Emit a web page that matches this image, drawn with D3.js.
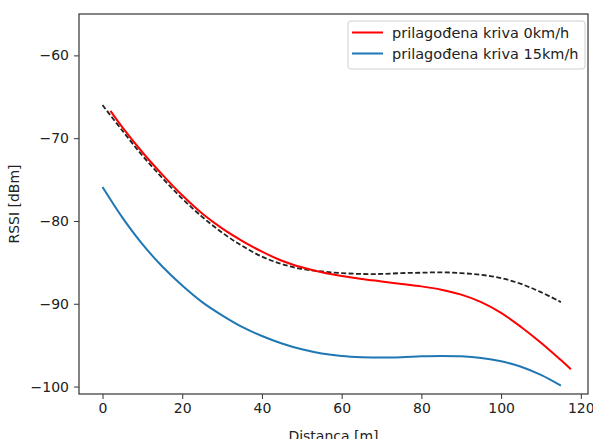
<!DOCTYPE html>
<html>
<head>
<meta charset="utf-8">
<script src="https://cdn.jsdelivr.net/npm/d3@7"></script>
<style>
  html, body { margin: 0; padding: 0; background: #fff; }
  svg { display: block; }
  text { font-family: "DejaVu Sans", sans-serif; fill: #222; }
</style>
</head>
<body>
<svg id="chart" width="593" height="439"></svg>
<script>
// ---- data ----
const redX = [2, 5, 10, 15, 20, 25, 30, 35, 40, 45, 50, 55, 60, 65, 70, 75, 80, 85, 90, 95, 100, 105, 110, 115, 117.5];
const redY = [-66.7, -68.7, -71.7, -74.4, -76.9, -79.1, -80.9, -82.4, -83.7, -84.8, -85.6, -86.2, -86.65, -87.0, -87.3, -87.6, -87.9, -88.3, -88.9, -89.8, -91.1, -92.8, -94.7, -96.8, -97.9];

const dashX = [0, 5, 10, 15, 20, 25, 30, 35, 40, 45, 50, 55, 60, 65, 70, 75, 80, 85, 90, 95, 100, 105, 110, 115];
const dashY = [-66.0, -69.1, -72.1, -74.8, -77.3, -79.5, -81.4, -83.0, -84.3, -85.2, -85.8, -86.1, -86.3, -86.4, -86.4, -86.3, -86.25, -86.2, -86.3, -86.5, -86.9, -87.6, -88.6, -89.8];

const blueX = [0, 5, 10, 15, 20, 25, 30, 35, 40, 45, 50, 55, 60, 65, 70, 75, 80, 85, 90, 95, 100, 105, 110, 115];
const blueY = [-75.9, -79.6, -82.8, -85.5, -87.8, -89.8, -91.4, -92.8, -93.9, -94.8, -95.5, -96.0, -96.3, -96.45, -96.5, -96.45, -96.35, -96.3, -96.35, -96.55, -96.95, -97.6, -98.6, -99.9];

const xTicks = [0, 20, 40, 60, 80, 100, 120];
const yTicks = [-60, -70, -80, -90, -100];
const legendLabels = ["prilagođena kriva 0km/h", "prilagođena kriva 15km/h"];
const xLabel = "Distanca [m]";
const yLabel = "RSSI [dBm]";

// ---- layout ----
const svg = d3.select("#chart");
const L = 79, R = 588, T = 14, B = 394;
const x = d3.scaleLinear().domain([-5.9, 121.8]).range([L, R]);
const y = d3.scaleLinear().domain([-100.9, -55]).range([B, T]);

const zip = (xs, ys) => xs.map((v, i) => [v, ys[i]]);
const line = d3.line().x(d => x(d[0])).y(d => y(d[1])).curve(d3.curveCatmullRom.alpha(0.5));

const plot = svg.append("g");
plot.append("path").datum(zip(dashX, dashY)).attr("d", line)
  .attr("fill", "none").attr("stroke", "#222").attr("stroke-width", 1.8)
  .attr("stroke-dasharray", "5,2.4");
plot.append("path").datum(zip(redX, redY)).attr("d", line)
  .attr("fill", "none").attr("stroke", "#ff0000").attr("stroke-width", 2);
plot.append("path").datum(zip(blueX, blueY)).attr("d", line)
  .attr("fill", "none").attr("stroke", "#1f77b4").attr("stroke-width", 2);

// ---- axes ----
const fmt = d => (d < 0 ? "\u2212" + Math.abs(d) : String(d));
const xAxis = svg.append("g").attr("transform", `translate(0,${B})`)
  .call(d3.axisBottom(x).tickValues(xTicks).tickFormat(fmt).tickSize(5).tickPadding(4));
const yAxis = svg.append("g").attr("transform", `translate(${L},0)`)
  .call(d3.axisLeft(y).tickValues(yTicks).tickFormat(fmt).tickSize(5).tickPadding(5));
[xAxis, yAxis].forEach(g => {
  g.select(".domain").remove();
  g.selectAll("line").attr("stroke", "#333").attr("stroke-width", 1);
  g.selectAll("text").attr("font-size", 14).attr("fill", "#222")
    .attr("font-family", "DejaVu Sans, sans-serif");
});

// frame
svg.append("rect").attr("x", L).attr("y", T).attr("width", R - L).attr("height", B - T)
  .attr("fill", "none").attr("stroke", "#333").attr("stroke-width", 1.2);

// axis labels
svg.append("text").attr("x", (L + R) / 2).attr("y", 441).attr("text-anchor", "middle")
  .attr("font-size", 14).text(xLabel);
svg.append("text").attr("transform", `translate(19,${(T + B) / 2}) rotate(-90)`)
  .attr("text-anchor", "middle").attr("font-size", 14).text(yLabel);

// ---- legend ----
const lg = svg.append("g");
lg.append("rect").attr("x", 348).attr("y", 21).attr("width", 237).attr("height", 48)
  .attr("rx", 3).attr("fill", "#fff").attr("fill-opacity", 0.8)
  .attr("stroke", "#d0d0d0").attr("stroke-width", 1);
const colors = ["#ff0000", "#1f77b4"];
legendLabels.forEach((lab, i) => {
  const yy = 32.5 + i * 21;
  lg.append("line").attr("x1", 352).attr("x2", 383).attr("y1", yy).attr("y2", yy)
    .attr("stroke", colors[i]).attr("stroke-width", 2);
  lg.append("text").attr("x", 392).attr("y", yy + 5).attr("font-size", 14.5).text(lab);
});
</script>
</body>
</html>
